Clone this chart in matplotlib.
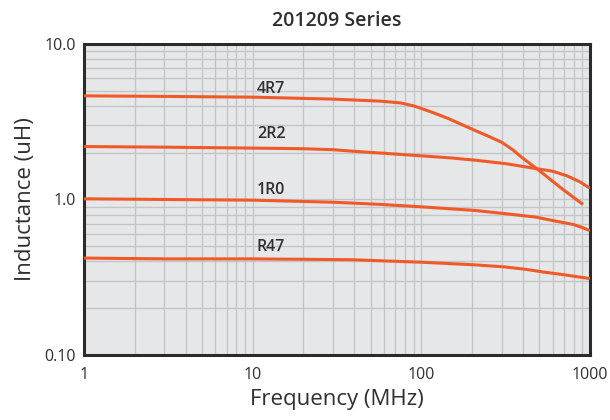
import numpy as np
import matplotlib.pyplot as plt
from matplotlib.ticker import FixedLocator, NullFormatter

plt.rcParams['font.family'] = ['Open Sans', 'DejaVu Sans']

# inductance vs frequency, read per part
freq_4r7 = [1, 3, 10, 30, 57, 75, 90, 115, 144, 208, 250, 300, 350, 395, 498, 691, 908]
ind_4r7 = [4.64, 4.6, 4.55, 4.42, 4.29, 4.18, 4.0, 3.65, 3.32, 2.78, 2.55, 2.33, 2.08, 1.86, 1.54, 1.16, 0.93]

freq_2r2 = [1, 3, 10, 20, 30, 40, 57, 99, 150, 208, 316, 478, 600, 730, 870, 1000]
ind_2r2 = [2.19, 2.17, 2.14, 2.12, 2.09, 2.04, 1.99, 1.91, 1.85, 1.79, 1.70, 1.58, 1.52, 1.42, 1.30, 1.18]

freq_1r0 = [1, 3, 10, 30, 57, 95, 208, 316, 478, 650, 800, 900, 1000]
ind_1r0 = [1.01, 1.0, 0.99, 0.96, 0.93, 0.90, 0.85, 0.81, 0.77, 0.72, 0.69, 0.66, 0.63]

freq_r47 = [1, 3, 10, 38, 100, 207, 316, 420, 525, 700, 850, 1000]
ind_r47 = [0.42, 0.415, 0.415, 0.41, 0.395, 0.38, 0.368, 0.355, 0.342, 0.328, 0.318, 0.31]

parts = ['4R7', '2R2', '1R0', 'R47']
label_y = [4.83, 2.48, 1.08, 0.463]
label_x = 10.6

x_ticks = [1, 10, 100, 1000]
x_labels = ['1', '10', '100', '1000']
y_ticks = [0.1, 1.0, 10.0]
y_labels = ['0.10', '1.0', '10.0']

line_color = '#f05a28'
text_color = '#2f2f2f'

fig = plt.figure(figsize=(6.1, 4.2), dpi=100)
ax = fig.add_axes([0.1377, 0.1548, 0.8295, 0.7405])
ax.set_facecolor('#e6e7e8')

series = [(freq_4r7, ind_4r7), (freq_2r2, ind_2r2), (freq_1r0, ind_1r0), (freq_r47, ind_r47)]
for (f, l), name, ly in zip(series, parts, label_y):
    ax.plot(f, l, color=line_color, lw=2.2, solid_capstyle='butt', zorder=3)
    ax.text(label_x, ly, name, fontsize=11.5, fontweight='semibold', color=text_color,
            ha='left', va='baseline')

ax.set_xscale('log')
ax.set_yscale('log')
ax.set_xlim(1, 1000)
ax.set_ylim(0.1, 10)

minor_x = [m * d for d in (1, 10, 100) for m in range(2, 10)]
minor_y = [m * d for d in (0.1, 1) for m in range(2, 10)]
ax.xaxis.set_major_locator(FixedLocator(x_ticks))
ax.xaxis.set_minor_locator(FixedLocator(minor_x))
ax.yaxis.set_major_locator(FixedLocator(y_ticks))
ax.yaxis.set_minor_locator(FixedLocator(minor_y))
ax.set_xticklabels(x_labels)
ax.set_yticklabels(y_labels)
ax.xaxis.set_minor_formatter(NullFormatter())
ax.yaxis.set_minor_formatter(NullFormatter())

ax.grid(True, which='both', color='#c4c5c7', lw=1.0, zorder=1)
ax.set_axisbelow(True)
ax.tick_params(which='both', length=0, labelsize=11.5, colors=text_color, pad=9)
ax.tick_params(axis='y', pad=6)

for s in ax.spines.values():
    s.set_color('#2b2b2b')
    s.set_linewidth(2.2)

ax.set_xlabel('Frequency (MHz)', fontsize=16, color=text_color, labelpad=4)
ax.set_ylabel('Inductance (uH)', fontsize=16, color=text_color, labelpad=6)
ax.set_title('201209 Series', fontsize=14, fontweight='semibold', color=text_color, pad=13)

fig.savefig('out.png', dpi=100)
